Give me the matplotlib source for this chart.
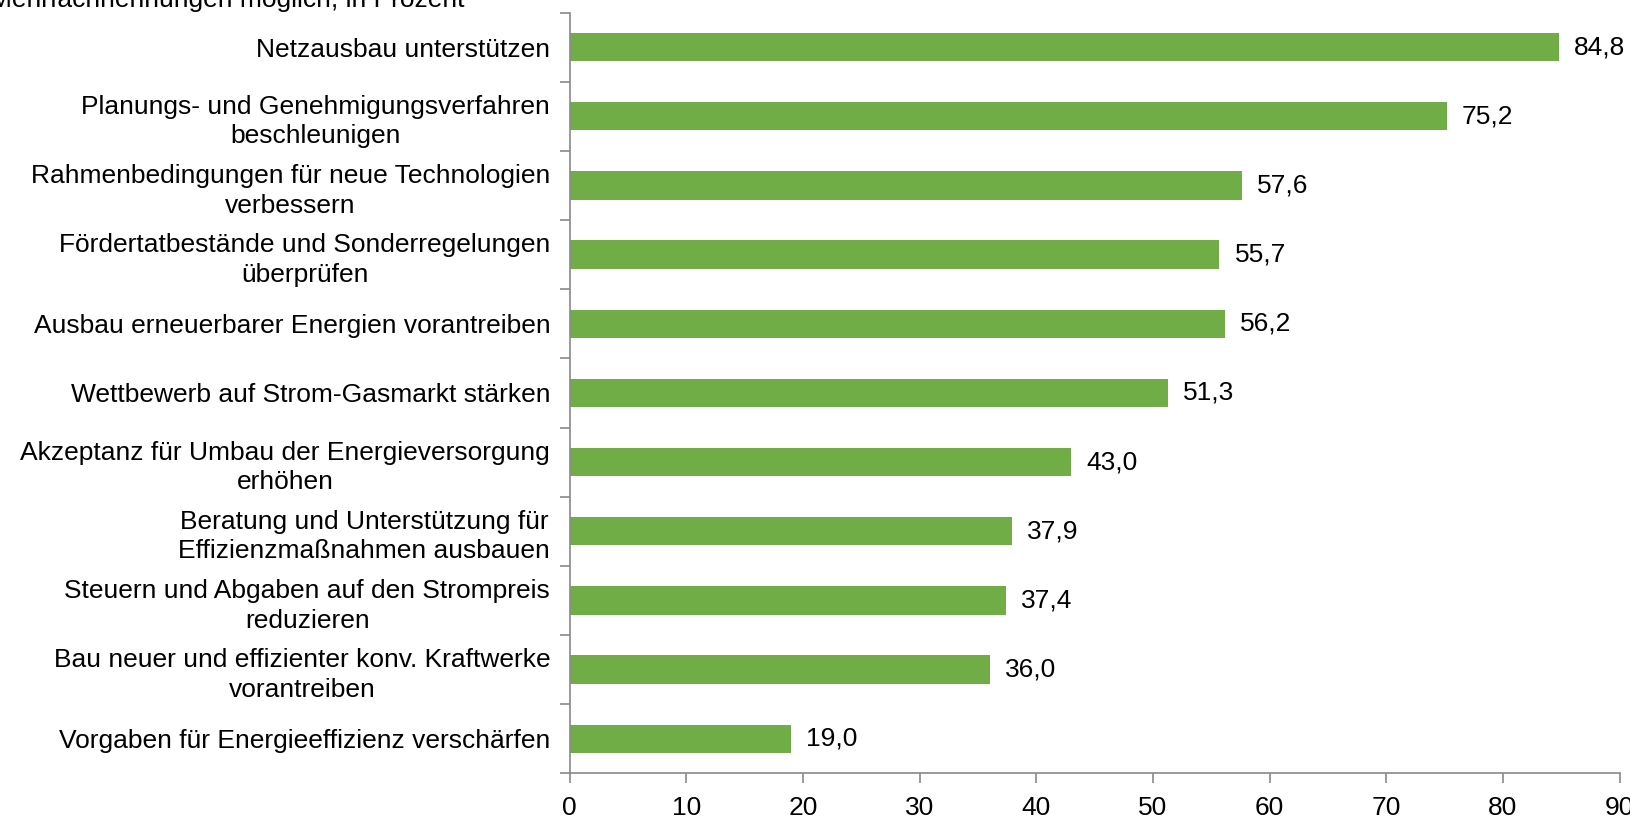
import matplotlib.pyplot as plt
import numpy as np

plt.rcParams['font.family'] = ['Liberation Sans', 'DejaVu Sans']

categories = [
    'Netzausbau unterstützen',
    'Planungs- und Genehmigungsverfahren\nbeschleunigen',
    'Rahmenbedingungen für neue Technologien\nverbessern',
    'Fördertatbestände und Sonderregelungen\nüberprüfen',
    'Ausbau erneuerbarer Energien vorantreiben',
    'Wettbewerb auf Strom-Gasmarkt stärken',
    'Akzeptanz für Umbau der Energieversorgung\nerhöhen',
    'Beratung und Unterstützung für\nEffizienzmaßnahmen ausbauen',
    'Steuern und Abgaben auf den Strompreis\nreduzieren',
    'Bau neuer und effizienter konv. Kraftwerke\nvorantreiben',
    'Vorgaben für Energieeffizienz verschärfen',
]
values = [84.8, 75.2, 57.6, 55.7, 56.2, 51.3, 43.0, 37.9, 37.4, 36.0, 19.0]
x_ticks = [0, 10, 20, 30, 40, 50, 60, 70, 80, 90]
subtitle = 'Mehrfachnennungen möglich, in Prozent'

fs = 19

fig = plt.figure(figsize=(16.3, 8.17), dpi=100)
ax = fig.add_axes([0.3495, 0.0534, 0.6441, 0.9313])

y = np.arange(len(categories))
bars = ax.barh(y, values, height=0.41, color='#70AD47')

for b, v in zip(bars, values):
    ax.text(b.get_width() + 1.3, b.get_y() + b.get_height() / 2,
            f'{v:.1f}'.replace('.', ','), va='center', ha='left', fontsize=fs)

ax.set_ylim(len(categories) - 0.5, -0.5)
ax.set_xlim(0, 90)
ax.set_xticks(x_ticks)
ax.set_xticklabels([str(t) for t in x_ticks], fontsize=fs)

# labels on major ticks (hidden marks), tick marks between categories
ax.set_yticks(y)
ax.set_yticklabels(categories, fontsize=fs, multialignment='center',
                   linespacing=1.3)
ax.tick_params(axis='y', which='major', length=0, pad=14)
ax.set_yticks(np.arange(-0.5, len(categories), 1), minor=True)
ax.tick_params(axis='y', which='minor', length=7, color='#898989', width=1.2)
ax.tick_params(axis='x', length=7, color='#898989', width=1.2, pad=9)

for s in ['top', 'right']:
    ax.spines[s].set_visible(False)
for s in ['left', 'bottom']:
    ax.spines[s].set_color('#898989')
    ax.spines[s].set_linewidth(1.2)

fig.text(-0.006, 1.0, subtitle, fontsize=fs, ha='left', va='center')

fig.savefig('out.png', dpi=100)
